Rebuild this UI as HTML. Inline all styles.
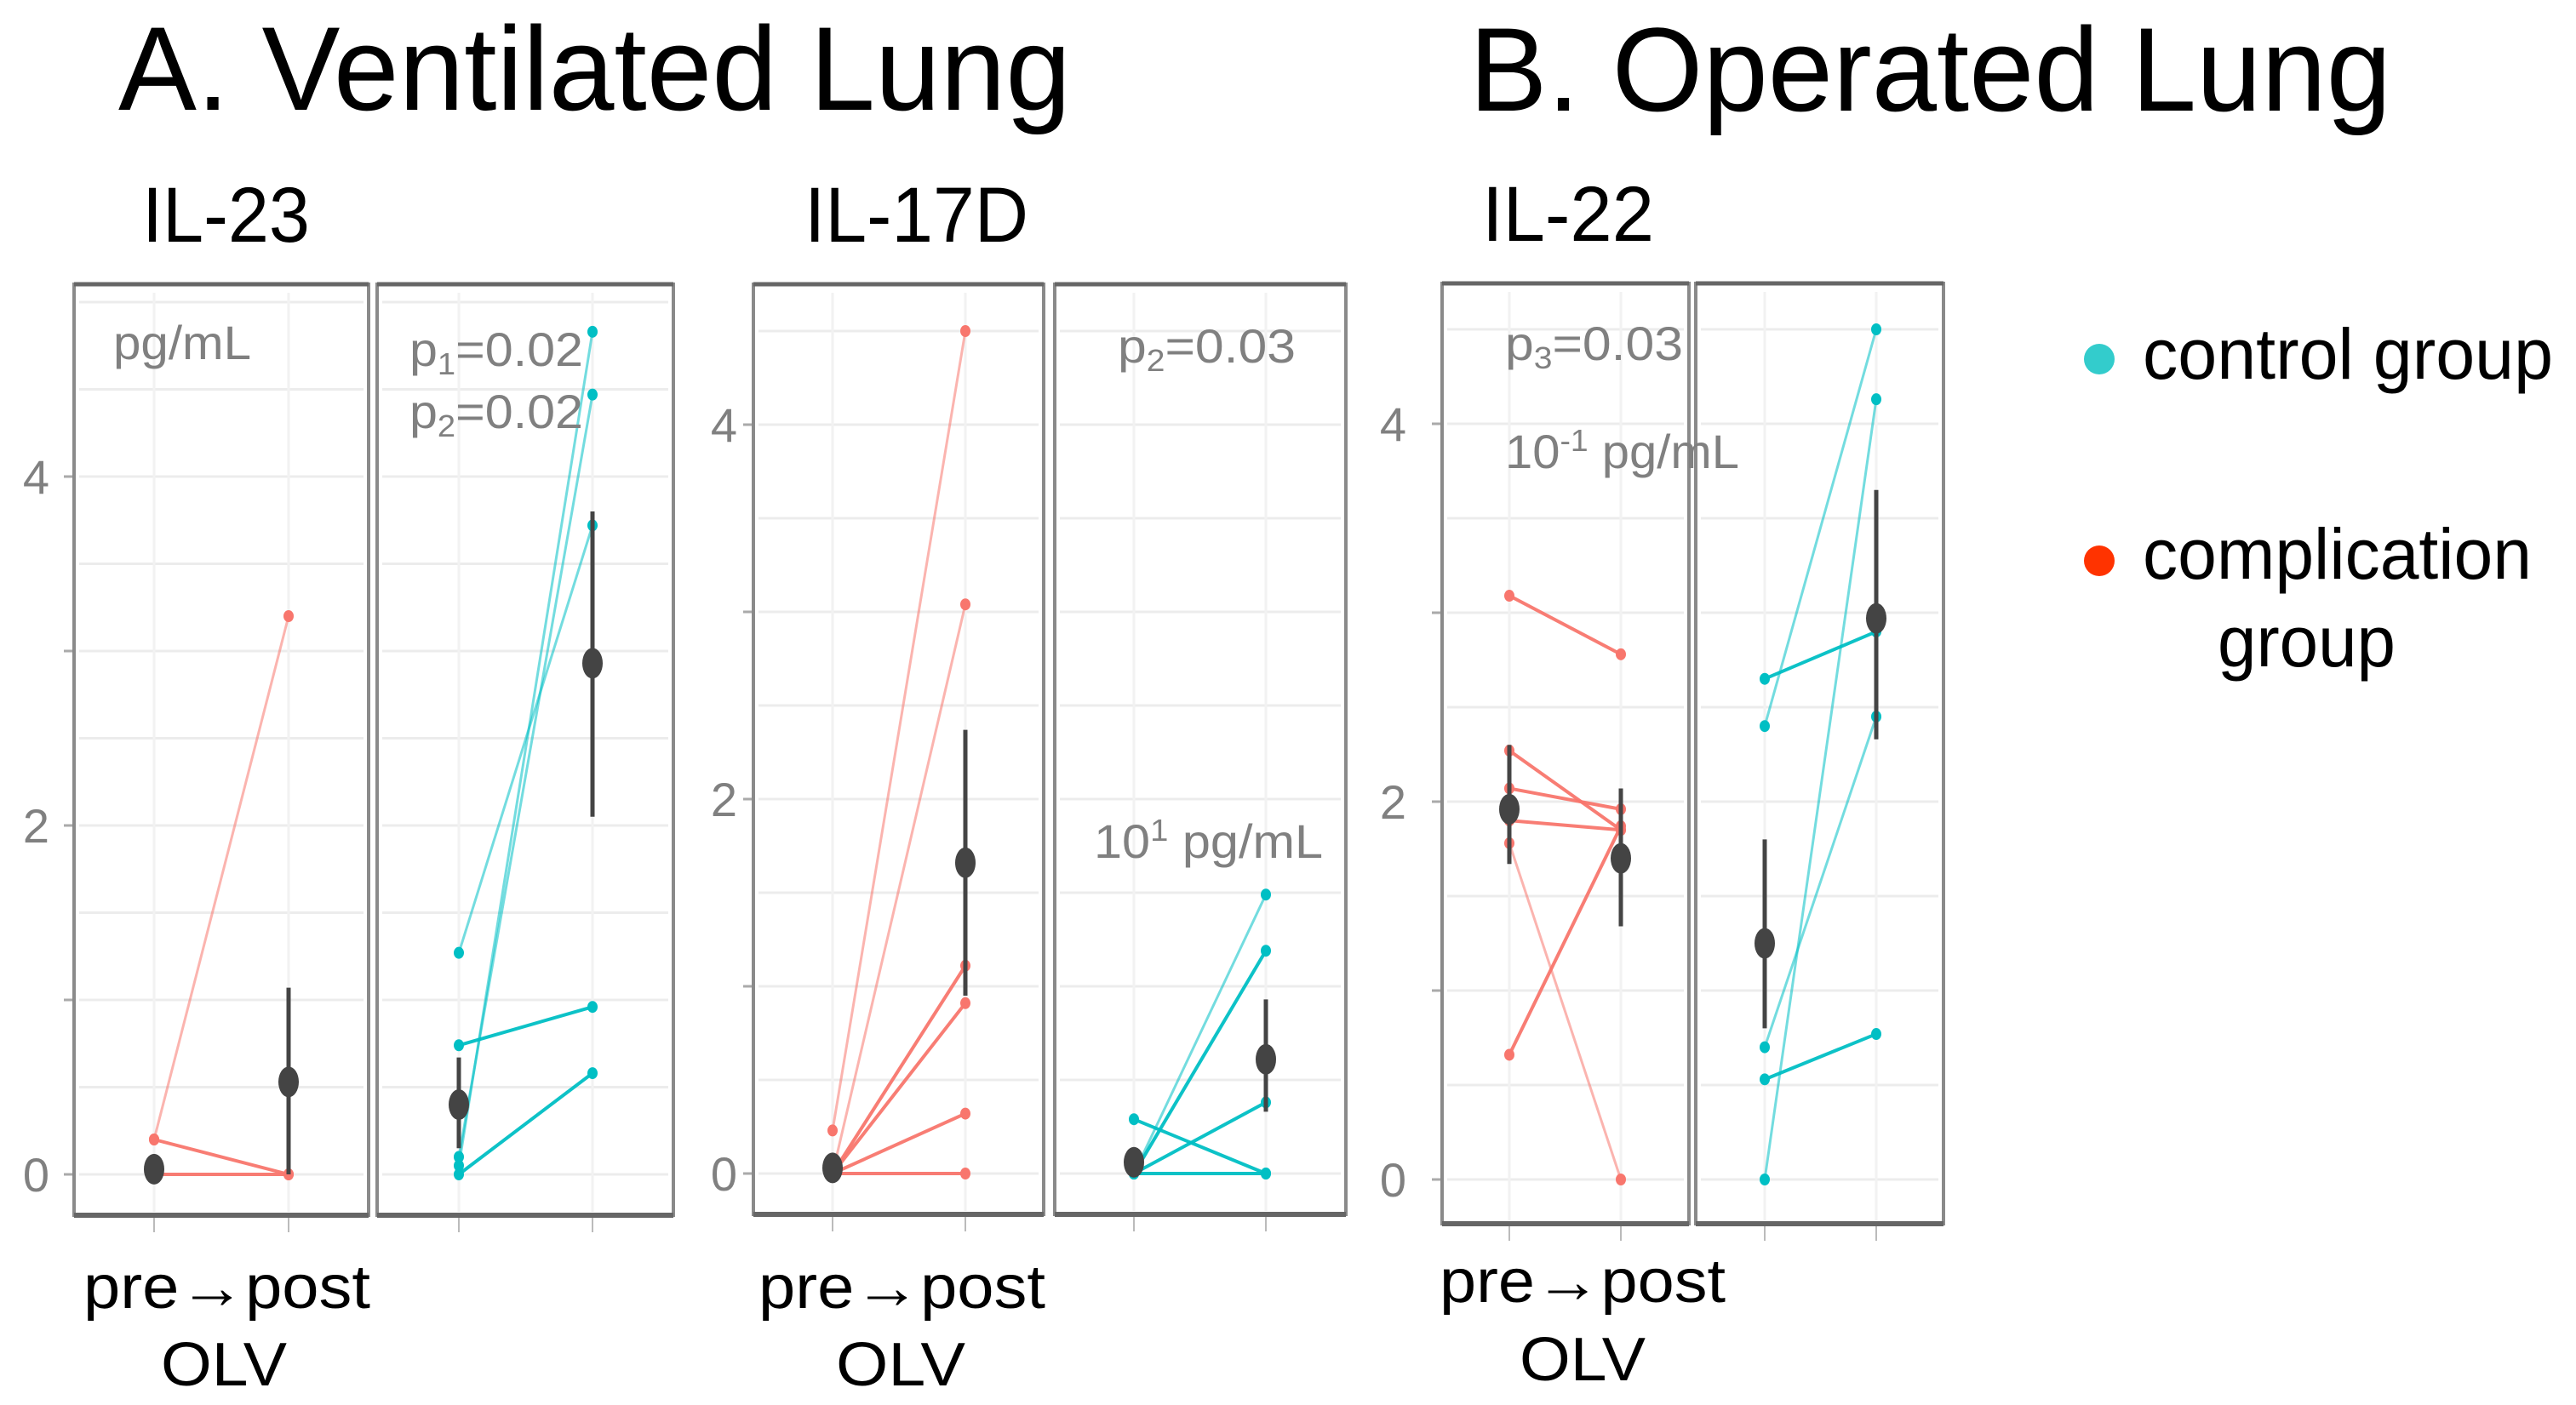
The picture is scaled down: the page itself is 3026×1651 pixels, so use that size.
<!DOCTYPE html>
<html><head><meta charset="utf-8">
<style>
html,body{margin:0;padding:0;background:#fff;}
svg{display:block;font-family:"Liberation Sans",Arial,sans-serif;}
</style></head>
<body>
<svg id="chart" width="3026" height="1651" viewBox="0 0 3026 1651" xmlns="http://www.w3.org/2000/svg">
<text x="139" y="129" font-size="140" textLength="1119" lengthAdjust="spacingAndGlyphs">A. Ventilated Lung</text>
<text x="1726" y="130" font-size="140" textLength="1083" lengthAdjust="spacingAndGlyphs">B. Operated Lung</text>
<text x="167" y="284" font-size="92" textLength="197" lengthAdjust="spacingAndGlyphs">IL-23</text>
<text x="945" y="284" font-size="92" textLength="263" lengthAdjust="spacingAndGlyphs">IL-17D</text>
<text x="1741" y="283" font-size="92" textLength="202" lengthAdjust="spacingAndGlyphs">IL-22</text>

<g>
<circle cx="2466" cy="422" r="18" fill="#33cccc"/>
<text x="2517" y="445" font-size="84" textLength="482" lengthAdjust="spacingAndGlyphs">control group</text>
<circle cx="2466" cy="659" r="18" fill="#ff3300"/>
<text x="2517" y="680" font-size="84" textLength="457" lengthAdjust="spacingAndGlyphs">complication</text>
<text x="2605" y="783" font-size="84" textLength="209" lengthAdjust="spacingAndGlyphs">group</text>
</g>

<text x="98" y="1537" font-size="72" textLength="337" lengthAdjust="spacingAndGlyphs">pre→post</text>
<text x="189" y="1628" font-size="72" textLength="148" lengthAdjust="spacingAndGlyphs">OLV</text>
<text x="891" y="1537" font-size="72" textLength="337" lengthAdjust="spacingAndGlyphs">pre→post</text>
<text x="982" y="1628" font-size="72" textLength="152" lengthAdjust="spacingAndGlyphs">OLV</text>
<text x="1691" y="1530" font-size="72" textLength="336" lengthAdjust="spacingAndGlyphs">pre→post</text>
<text x="1785" y="1622" font-size="72" textLength="148" lengthAdjust="spacingAndGlyphs">OLV</text>
<g id="plots"></g>
</svg>
<script>
// ---- data ----
const tickLabels = [0, 2, 4];
const il23CompPre = [0.2, 0.2, 0];
const il23CompPost = [3.2, 0, 0];
const il23CompMean = [0.03, 0.53];
const il23CompLo = [0, 0];
const il23CompHi = [0.06, 1.07];
const il23CtrlPre = [1.27, 0.74, 0, 0.05, 0.1];
const il23CtrlPost = [3.72, 0.96, 0.58, 4.83, 4.47];
const il23CtrlMean = [0.4, 2.93];
const il23CtrlLo = [0.15, 2.05];
const il23CtrlHi = [0.67, 3.8];

const il17CompPre = [0.23, 0, 0, 0, 0, 0];
const il17CompPost = [4.5, 3.04, 1.11, 0.91, 0.32, 0];
const il17CompMean = [0.03, 1.66];
const il17CompLo = [0, 0.95];
const il17CompHi = [0.06, 2.37];
const il17CtrlPre = [0.29, 0, 0, 0, 0];
const il17CtrlPost = [0, 1.49, 1.19, 0.38, 0];
const il17CtrlMean = [0.06, 0.61];
const il17CtrlLo = [0.02, 0.33];
const il17CtrlHi = [0.1, 0.93];

const il22CompPre = [3.09, 2.27, 2.07, 1.9, 1.78, 0.66];
const il22CompPost = [2.78, 1.85, 1.96, 1.85, 0, 1.87];
const il22CompMean = [1.96, 1.7];
const il22CompLo = [1.67, 1.34];
const il22CompHi = [2.3, 2.07];
const il22CtrlPre = [2.65, 2.4, 0.7, 0.53, 0];
const il22CtrlPost = [2.9, 4.5, 2.45, 0.77, 4.13];
const il22CtrlMean = [1.25, 2.97];
const il22CtrlLo = [0.8, 2.33];
const il22CtrlHi = [1.8, 3.65];

const NS = "http://www.w3.org/2000/svg";
const root = document.getElementById("plots");
function mk(tag, attrs, parent) {
  const e = document.createElementNS(NS, tag);
  for (const k in attrs) e.setAttribute(k, attrs[k]);
  (parent || root).appendChild(e);
  return e;
}
const COMP = "#f8766d", CTRL = "#00bfc4";

function facet(name, box, yScale, xs, pre, post, mean, lo, hi, color) {
  const g = mk("g", {});
  
  
  // background grid
  for (let v = 0; v <= 5.001; v += 0.5) {
    const y = yScale(v);
    if (y < box.top + 8) continue;
    const gl = mk("line", {x1: box.x0 + 6, x2: box.x1 - 6, y1: y, y2: y, stroke: "#ececec", "stroke-width": 3}, g);
    
    
  }
  xs.forEach(x => {
    const vl = mk("line", {x1: x, x2: x, y1: box.top + 10, y2: box.bottom - 4, stroke: "#f2f2f2", "stroke-width": 3}, g);
    
    
    const tk = mk("line", {x1: x, x2: x, y1: box.bottom, y2: box.bottom + 20, stroke: "#bbb", "stroke-width": 2}, g);
    
    
  });
  // subject lines
  for (let i = 0; i < pre.length; i++) {
    const y1 = yScale(pre[i]), y2 = yScale(post[i]);
    const steep = Math.abs(post[i] - pre[i]) > 1.4;
    const ln = mk("line", {x1: xs[0], y1: y1, x2: xs[1], y2: y2, stroke: color, "stroke-width": steep ? 3 : 4, "stroke-opacity": steep ? 0.55 : 0.95}, g);
    
    
    [[xs[0], y1], [xs[1], y2]].forEach(p => {
      const pt = mk("ellipse", {cx: p[0], cy: p[1], rx: 6, ry: 7, fill: color}, g);
      
      
    });
  }
  // mean + error bars
  for (let j = 0; j < 2; j++) {
    const eb = mk("line", {x1: xs[j], x2: xs[j], y1: yScale(lo[j]), y2: yScale(hi[j]), stroke: "#444", "stroke-width": 5}, g);
    
    
    const md = mk("ellipse", {cx: xs[j], cy: yScale(mean[j]), rx: 12, ry: 18, fill: "#444"}, g);
    
    
  }
  // frame
  const fr = mk("rect", {x: box.x0, y: box.top, width: box.x1 - box.x0, height: box.bottom - box.top, fill: "none", stroke: "#8a8a8a", "stroke-width": 4}, g);
  
  
  const tb = mk("line", {x1: box.x0, x2: box.x1, y1: box.top, y2: box.top, stroke: "#666", "stroke-width": 5}, g);
  
  
  const bb = mk("line", {x1: box.x0, x2: box.x1, y1: box.bottom, y2: box.bottom, stroke: "#666", "stroke-width": 6}, g);
  
  
}

function panel(name, cfg, comp, ctrl, texts) {
  const yScale = v => cfg.y0 - v * cfg.unit;
  const boxL = {x0: cfg.L[0], x1: cfg.L[1], top: cfg.top, bottom: cfg.bottom};
  const boxR = {x0: cfg.R[0], x1: cfg.R[1], top: cfg.top, bottom: cfg.bottom};
  // y axis ticks
  for (let v = 0; v <= 4; v++) {
    const t = mk("line", {x1: cfg.L[0] - 12, x2: cfg.L[0], y1: yScale(v), y2: yScale(v), stroke: "#aaa", "stroke-width": 3});
    
    
  }
  tickLabels.forEach(v => {
    const t = mk("text", {x: cfg.labelRight, y: yScale(v) + 20, "font-size": 56, fill: "#808080", "text-anchor": "end"});
    t.textContent = v;
    
    
  });
  facet(name + '-complication-facet', boxL, yScale, cfg.xl, comp[0], comp[1], comp[2], comp[3], comp[4], COMP);
  facet(name + '-control-facet', boxR, yScale, cfg.xr, ctrl[0], ctrl[1], ctrl[2], ctrl[3], ctrl[4], CTRL);
  texts.forEach(t => {
    const e = mk("text", {x: t.x, y: t.y, "font-size": 56, fill: "#808080", textLength: t.w, lengthAdjust: "spacingAndGlyphs"});
    e.innerHTML = t.html;
    
    
  });
}

panel('il23', {L: [87, 433], R: [443, 791], top: 334, bottom: 1428, y0: 1380, unit: 205, xl: [181, 339], xr: [539, 696], labelRight: 58},
  [il23CompPre, il23CompPost, il23CompMean, il23CompLo, il23CompHi],
  [il23CtrlPre, il23CtrlPost, il23CtrlMean, il23CtrlLo, il23CtrlHi],
  [{name: 'unit-label-pgml', x: 133, y: 422, w: 162, html: 'pg/mL'},
   {name: 'p1-annotation', x: 481, y: 430, w: 204, html: 'p<tspan font-size="36" dy="10">1</tspan><tspan dy="-10">=0.02</tspan>'},
   {name: 'p2-annotation', x: 481, y: 503, w: 204, html: 'p<tspan font-size="36" dy="10">2</tspan><tspan dy="-10">=0.02</tspan>'}]);

panel('il17d', {L: [885, 1226], R: [1239, 1581], top: 334, bottom: 1427, y0: 1379, unit: 220, xl: [978, 1134], xr: [1332, 1487], labelRight: 866},
  [il17CompPre, il17CompPost, il17CompMean, il17CompLo, il17CompHi],
  [il17CtrlPre, il17CtrlPost, il17CtrlMean, il17CtrlLo, il17CtrlHi],
  [{name: 'p2-annotation-il17d', x: 1313, y: 426, w: 209, html: 'p<tspan font-size="36" dy="10">2</tspan><tspan dy="-10">=0.03</tspan>'},
   {name: 'unit-label-il17d', x: 1285, y: 1008, w: 269, html: '10<tspan font-size="36" dy="-20">1</tspan><tspan dy="20"> pg/mL</tspan>'}]);

panel('il22', {L: [1694, 1984], R: [1992, 2283], top: 333, bottom: 1438, y0: 1386, unit: 222, xl: [1773, 1904], xr: [2073, 2204], labelRight: 1652},
  [il22CompPre, il22CompPost, il22CompMean, il22CompLo, il22CompHi],
  [il22CtrlPre, il22CtrlPost, il22CtrlMean, il22CtrlLo, il22CtrlHi],
  [{name: 'p3-annotation', x: 1768, y: 423, w: 209, html: 'p<tspan font-size="36" dy="10">3</tspan><tspan dy="-10">=0.03</tspan>'},
   {name: 'unit-label-il22', x: 1768, y: 550, w: 275, html: '10<tspan font-size="36" dy="-20">-1</tspan><tspan dy="20"> pg/mL</tspan>'}]);
</script>
</body></html>
